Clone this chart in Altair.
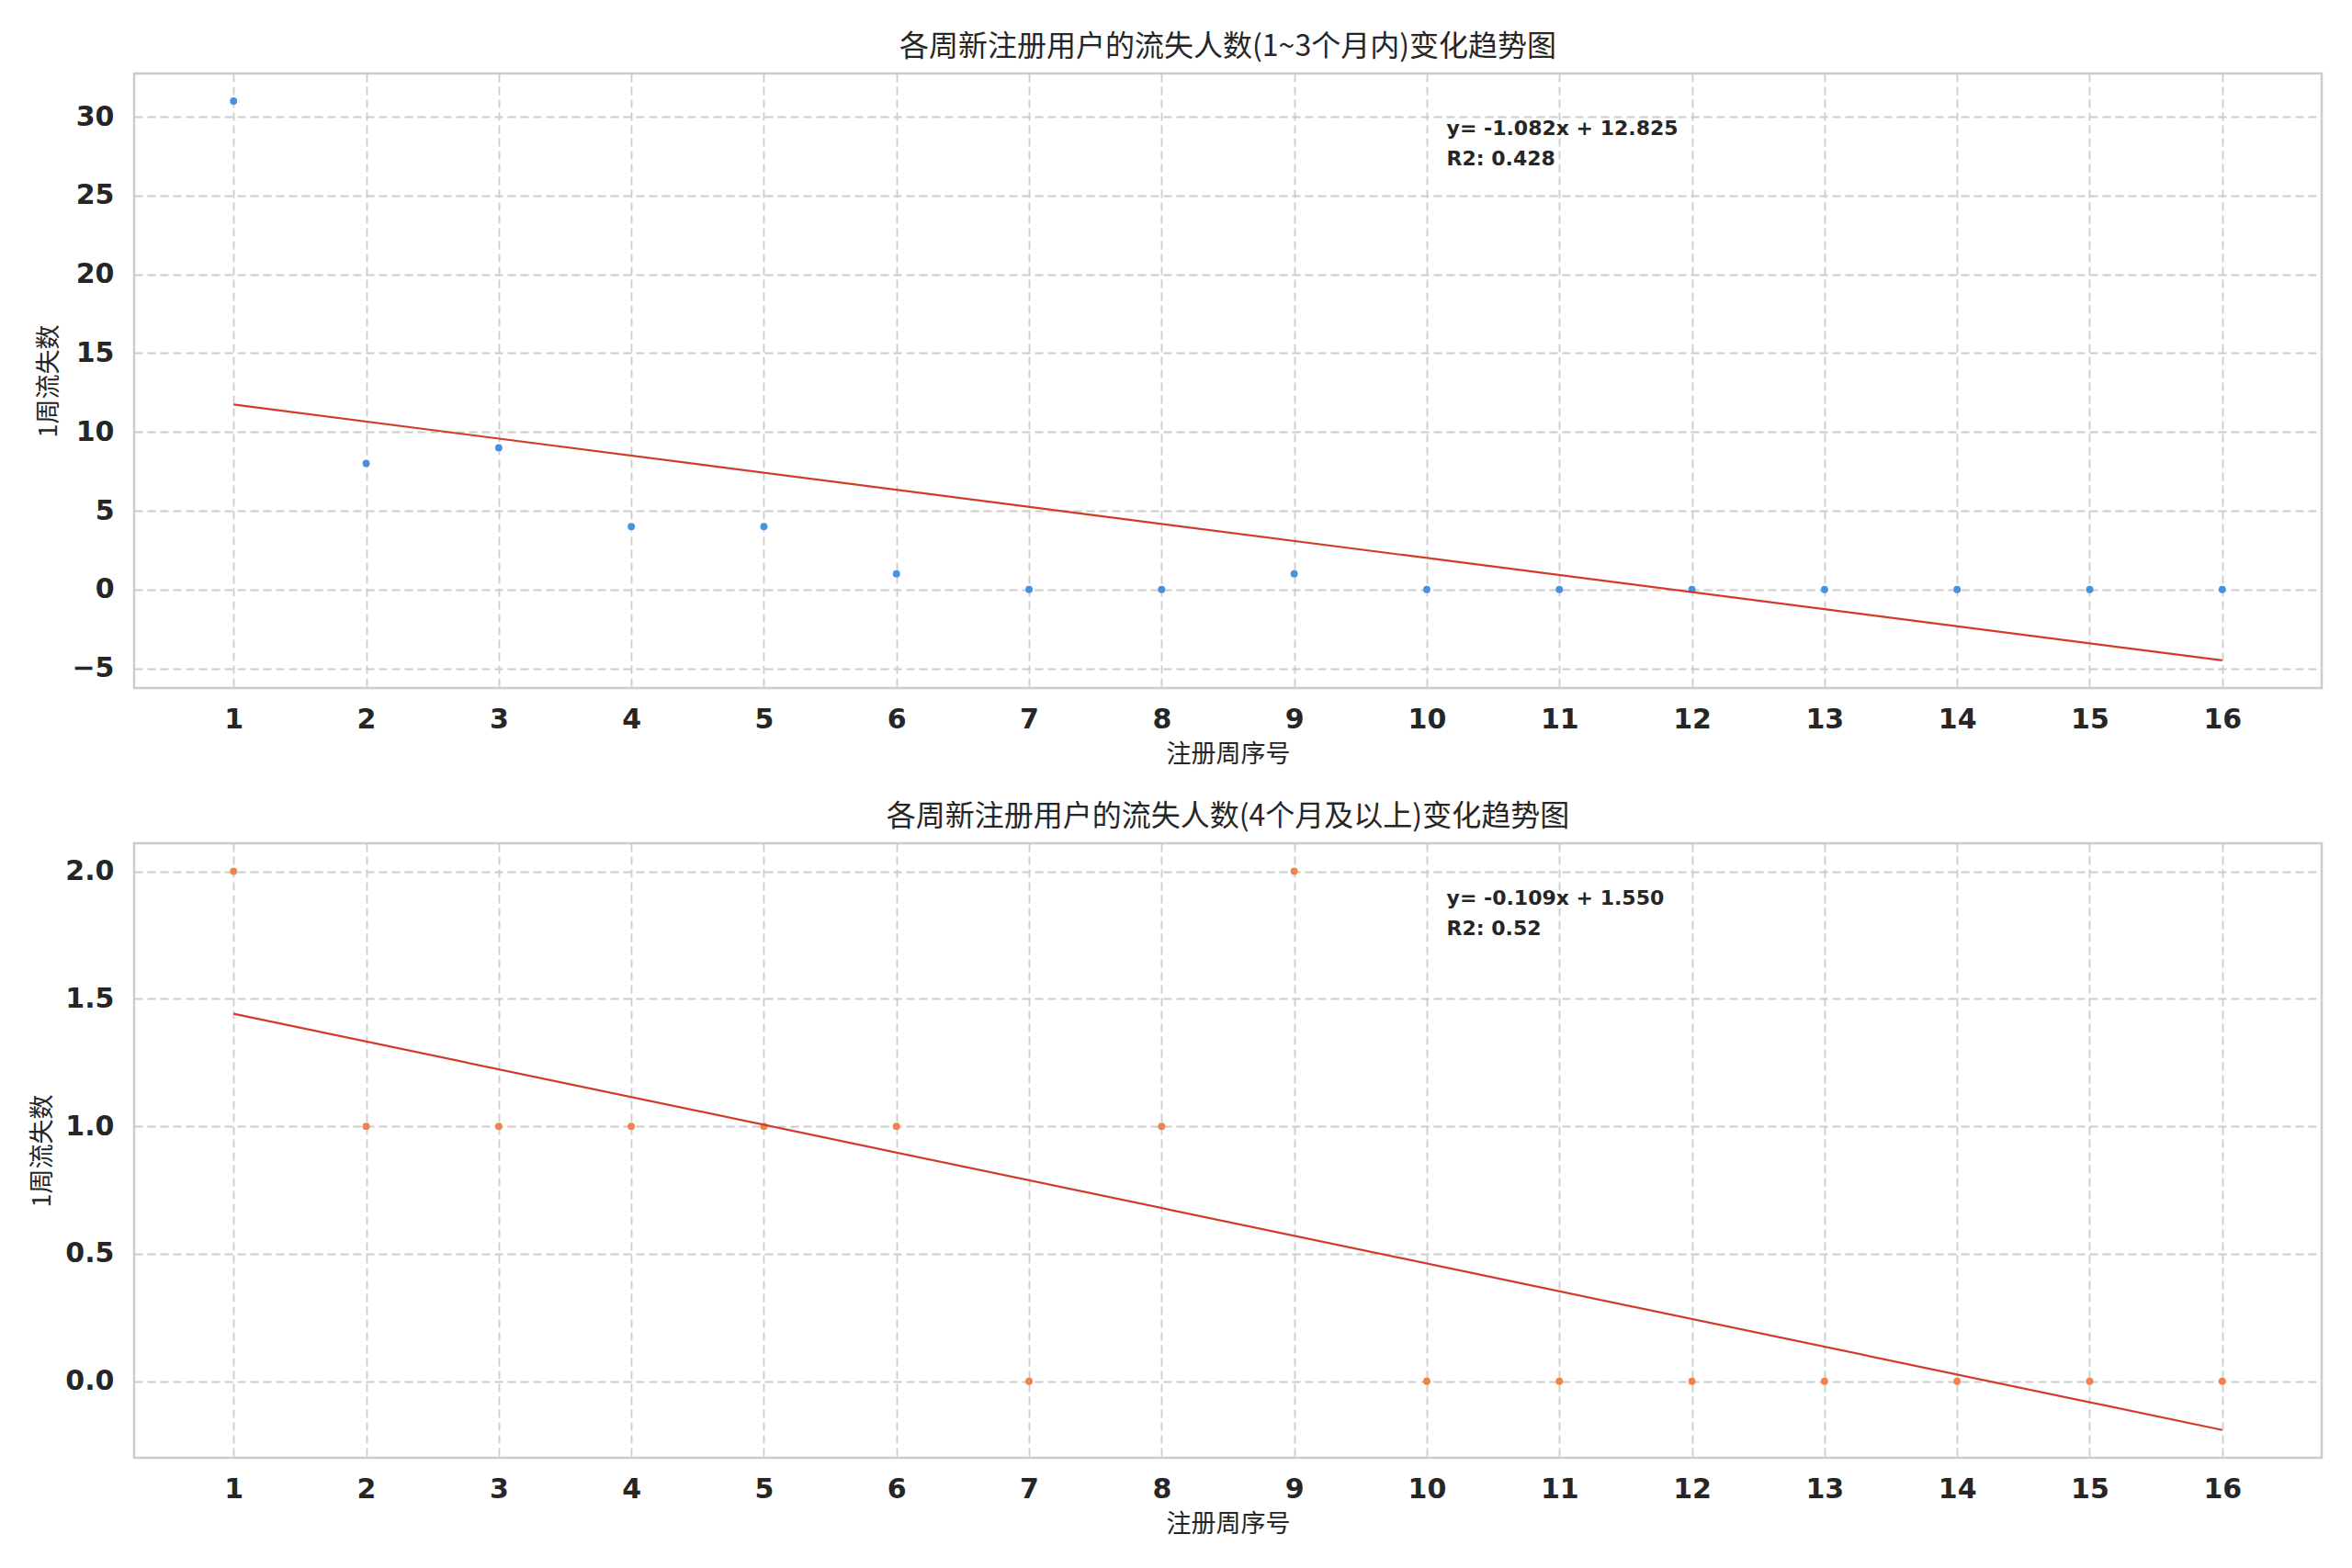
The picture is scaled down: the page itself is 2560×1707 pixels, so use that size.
import altair as alt
import pandas as pd

# ---- data ----
weeks = list(range(1, 17))
short_term_counts = [31, 8, 9, 4, 4, 1, 0, 0, 1, 0, 0, 0, 0, 0, 0, 0]
long_term_counts = [2, 1, 1, 1, 1, 1, 0, 1, 2, 0, 0, 0, 0, 0, 0, 0]
panel_titles = [
    "各周新注册用户的流失人数(1~3个月内)变化趋势图",
    "各周新注册用户的流失人数(4个月及以上)变化趋势图",
]
x_title = "注册周序号"
y_title = "1周流失数"
fit_labels = [
    ["y= -1.082x + 12.825", "R2: 0.428"],
    ["y= -0.109x + 1.550", "R2: 0.52"],
]
y_tick_values = [[-5, 0, 5, 10, 15, 20, 25, 30], [0.0, 0.5, 1.0, 1.5, 2.0]]

# ---- styling ----
W, H = 2381, 669
X_DOMAIN = [0.25, 16.75]
Y_DOMAINS = [[-6.25, 32.75], [-0.30, 2.11]]
Y_FORMATS = ["d", ".1f"]
POINT_COLORS = ["#4a90e2", "#f0824a"]
LINE_COLOR = "#d13b2a"
TEXT_COLOR = "#262626"
CJK = "Noto Sans CJK SC"
LATIN = "DejaVu Sans"


def panel(values, title, color, ydom, yticks, yfmt, fit):
    df = pd.DataFrame({"week": weeks, "count": values})
    base = alt.Chart(df)
    x = alt.X(
        "week:Q",
        scale=alt.Scale(domain=X_DOMAIN, nice=False, zero=False),
        axis=alt.Axis(values=weeks, format="d", title=x_title, labelPadding=19),
    )
    y = alt.Y(
        "count:Q",
        scale=alt.Scale(domain=ydom, nice=False, zero=False),
        axis=alt.Axis(values=yticks, format=yfmt, title=y_title, labelPadding=22),
    )
    pts = base.mark_circle(size=62, color=color, opacity=1).encode(x=x, y=y)
    reg = (
        base.transform_regression("week", "count")
        .mark_line(color=LINE_COLOR, strokeWidth=2.2)
        .encode(x=x, y=y)
    )
    txt = (
        alt.Chart(pd.DataFrame({"k": [0]}))
        .mark_text(
            text=fit,
            align="left",
            baseline="alphabetic",
            font=LATIN,
            fontWeight="bold",
            fontSize=22,
            lineHeight=33,
            color=TEXT_COLOR,
        )
        .encode(x=alt.value(0.6 * W), y=alt.value(67))
    )
    return alt.layer(pts, reg, txt).properties(
        width=W,
        height=H,
        title=alt.TitleParams(
            title,
            font=CJK,
            fontSize=32,
            fontWeight="normal",
            color=TEXT_COLOR,
            anchor="middle",
            offset=12,
        ),
    )


top = panel(short_term_counts, panel_titles[0], POINT_COLORS[0],
            Y_DOMAINS[0], y_tick_values[0], Y_FORMATS[0], fit_labels[0])
bottom = panel(long_term_counts, panel_titles[1], POINT_COLORS[1],
               Y_DOMAINS[1], y_tick_values[1], Y_FORMATS[1], fit_labels[1])

chart = (
    alt.vconcat(top, bottom, spacing=35)
    .properties(padding={"left": 23, "top": 25, "right": 10, "bottom": 10})
    .configure(background="white")
    .configure_view(stroke="#cccccc", strokeWidth=2.5)
    .configure_axis(
        domain=False,
        ticks=False,
        grid=True,
        gridColor="#cccccc",
        gridDash=[9, 5],
        gridWidth=1.8,
        labelFont=LATIN,
        labelFontWeight="bold",
        labelFontSize=30,
        labelColor=TEXT_COLOR,
        titleFont=CJK,
        titleFontSize=27,
        titleFontWeight="normal",
        titleColor=TEXT_COLOR,
        titlePadding=10,
    )
)

chart.save("out.html", embed_options={"renderer": "svg", "actions": False})
